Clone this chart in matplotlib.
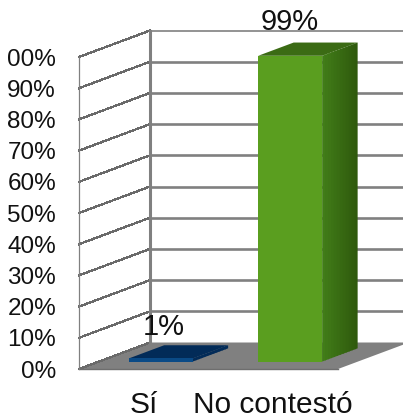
import matplotlib
matplotlib.use("Agg")
import matplotlib.pyplot as plt
from matplotlib.patches import Polygon

categories = ["Sí", "No contestó"]
values = [1, 99]
value_labels = ["1%", "99%"]
y_ticks = [0, 10, 20, 30, 40, 50, 60, 70, 80, 90, 100]
y_tick_labels = ["0%", "10%", "20%", "30%", "40%", "50%", "60%", "70%", "80%", "90%", "00%"]

W, H = 403, 418
L, R, T, B = 79, 338, 57, 369      # front plane in pixels
DX = 71 / ((R - L) / 2)            # full depth, in category units
DY = 26.5 / ((B - T) / 100)        # full depth, in percent units
BAR_W = 0.494
BAR_SHIFT = -0.023
BAR_SCALE = 0.99
D0, D1 = 0.28, 0.78                # bar depth range

plt.rcParams["font.family"] = ["Liberation Sans", "DejaVu Sans"]
fig = plt.figure(figsize=(W / 100, H / 100), dpi=100)
ax = fig.add_axes([L / W, (H - B) / H, (R - L) / W, (B - T) / H])
ax.set_xlim(-0.5, 1.5)
ax.set_ylim(0, 100)
ax.patch.set_visible(False)
for s in ax.spines.values():
    s.set_visible(False)


def P(x, d, v):
    return (x + d * DX, v + d * DY)


def face(pts, color, z):
    ax.add_patch(Polygon(pts, closed=True, facecolor=color, edgecolor="none",
                         linewidth=0, zorder=z, clip_on=False))


GRAY = "#808080"
x0, x1 = -0.5, 1.5
# floor
face([P(x0, 0, 0), P(x1, 0, 0), P(x1, 1, 0), P(x0, 1, 0)], GRAY, 1)
ax.plot(*zip(P(x0, 0, 0), P(x1, 0, 0)), color="#6e6e6e", lw=1, zorder=1.5, clip_on=False)

# walls and gridlines
for v in y_ticks:
    ax.plot(*zip(P(x0, 0, v), P(x0, 1, v)), color="#6a6a6a", lw=0.9,
            antialiased=False, zorder=2, clip_on=False)
    if v > 0:
        ax.plot(*zip(P(x0, 1, v), P(x1, 1, v)), color=GRAY,
                lw=1.2 if v == 100 else 1.9, zorder=2, clip_on=False)
ax.plot(*zip(P(x0, 1, 0), P(x0, 1, 100)), color=GRAY, lw=2.2, zorder=3, clip_on=False)
ax.plot(*zip(P(x0, 0, 0), P(x0, 0, 100)), color=GRAY, lw=0.9, zorder=3, clip_on=False)

# bars
styles = [
    dict(front="#0a4a86", top="#022b58", side="#022b58", side2="#022b58"),
    dict(front="#5a9e1f", top="#3b6b14", side="#417c18", side2="#2f5a0d"),
]
label_offsets = [(2, 12.5), (0, 14)]
for i, (val, st) in enumerate(zip(values, styles)):
    h = val * BAR_SCALE
    c = i + BAR_SHIFT
    a, b = c - BAR_W / 2, c + BAR_W / 2
    face([P(a, D0, 0), P(b, D0, 0), P(b, D0, h), P(a, D0, h)], st["front"], 6)
    face([P(a, D0, h), P(b, D0, h), P(b, D1, h), P(a, D1, h)], st["top"], 5)
    n = 12
    c1 = matplotlib.colors.to_rgb(st["side"])
    c2 = matplotlib.colors.to_rgb(st["side2"])
    for k in range(n):
        t0 = D0 + (D1 - D0) * k / n
        t1 = D0 + (D1 - D0) * (k + 1.3) / n if k < n - 1 else D1
        col = tuple(p + (q - p) * k / (n - 1) for p, q in zip(c1, c2))
        face([P(b, t0, 0), P(b, t1, 0), P(b, t1, h), P(b, t0, h)], col, 5 + k * 0.01)
    ax.annotate(value_labels[i], xy=P(c, D0, h), xytext=label_offsets[i],
                textcoords="offset points", ha="center", va="bottom",
                fontsize=21, color="#111111", zorder=8, annotation_clip=False)

ax.set_xticks([0, 1], categories, fontsize=21.5, color="#111111")
ax.set_yticks(y_ticks, y_tick_labels, fontsize=17.5, color="#111111")
ax.tick_params(axis="x", length=0, pad=15.7)
ax.tick_params(axis="y", length=0, pad=16.5)
fig.savefig("out.png", dpi=100)
